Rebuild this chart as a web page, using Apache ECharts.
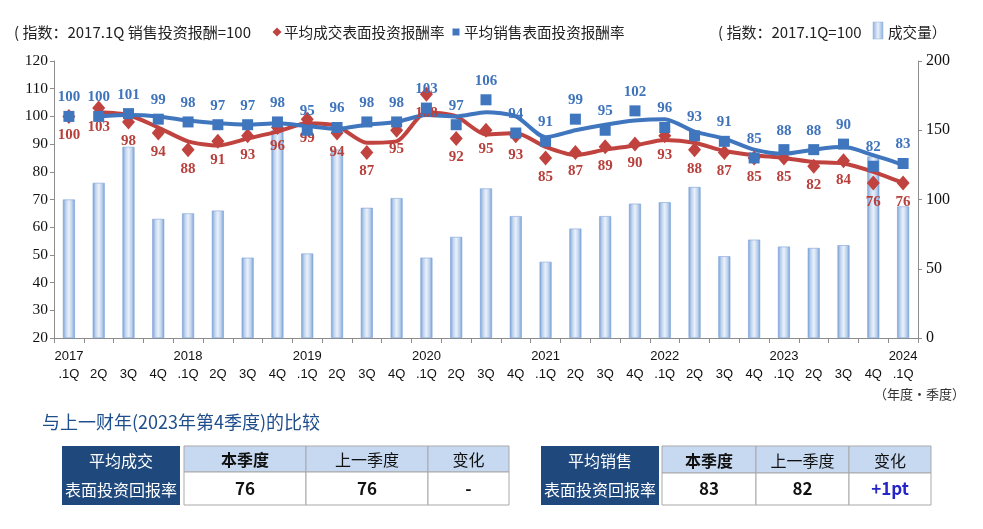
<!DOCTYPE html>
<html>
<head>
<meta charset="utf-8">
<script src="https://cdn.jsdelivr.net/npm/echarts@6/dist/echarts.min.js"></script>
<style>
html,body{margin:0;padding:0;background:#fff;}
#chart{width:983px;height:529px;}
</style>
</head>
<body>
<div id="chart"></div>
<script>
// ---- data ----
var yearLabels = ['2017','','','','2018','','','','2019','','','','2020','','','','2021','','','','2022','','','','2023','','','','2024'];
var quarterLabels = ['.1Q','2Q','3Q','4Q','.1Q','2Q','3Q','4Q','.1Q','2Q','3Q','4Q','.1Q','2Q','3Q','4Q','.1Q','2Q','3Q','4Q','.1Q','2Q','3Q','4Q','.1Q','2Q','3Q','4Q','.1Q'];
var volume = [100,112,138,86,90,92,58,150,61,136,94,101,58,73,108,88,55,79,88,97,98,109,59,71,66,65,67,131,95];
var dealRate = [100,103,98,94,88,91,93,96,99,94,87,95,108,92,95,93,85,87,89,90,93,88,87,85,85,82,84,76,76];
var saleRate = [100,100,101,99,98,97,97,98,95,96,98,98,103,97,106,94,91,99,95,102,96,93,91,85,88,88,90,82,83];
var dealTrend = [null,101.5,100.5,96,91,89.5,92,94.5,97.5,96.5,90.5,91,101.5,100,93.5,94,89,86,88,89.5,91.5,90.5,87.5,86,85,83.5,83,80,76];
var saleTrend = [null,100,100.5,100,98.5,97.5,97,97.5,96.5,95.5,97,98,100.5,100,101.5,100,92.5,95,97,98.5,99,94.5,92,88,86.5,88,89,86,82.5];
var leftTicks = {min:20, max:120, interval:10};
var rightTicks = {min:0, max:200, interval:50};
var tableLeft = {head:['平均成交','表面投资回报率'], cols:['本季度','上一季度','变化'], vals:['76','76','-']};
var tableRight = {head:['平均销售','表面投资回报率'], cols:['本季度','上一季度','变化'], vals:['83','82','+1pt']};

var categories = quarterLabels.map(function(q,i){ return i + ''; });

var RED = '#C0433F', BLUE = '#3F76BE';
var CJK = "'Noto Sans CJK SC', 'Noto Sans', sans-serif";
var SERIF = "'Liberation Serif', 'DejaVu Serif', serif";
var SANS = "'Liberation Sans', Arial, sans-serif";

var chart = echarts.init(document.getElementById('chart'), null, {renderer:'canvas'});

function tableGraphics(t, x0, y0, darkW, colX, colW, headH, valH){
  var els = [];
  els.push({type:'rect', shape:{x:x0, y:y0, width:darkW, height:headH+valH}, style:{fill:'#1F497D'}, z:10});
  els.push({type:'text', style:{text:t.head[0], x:x0+darkW/2, y:y0+15, align:'center', verticalAlign:'middle', fill:'#fff', font:'16px '+CJK}, z:11});
  els.push({type:'text', style:{text:t.head[1], x:x0+darkW/2, y:y0+headH+valH-15, align:'center', verticalAlign:'middle', fill:'#fff', font:'16px '+CJK}, z:11});
  for (var i=0;i<3;i++){
    els.push({type:'rect', shape:{x:colX[i], y:y0, width:colW[i], height:headH}, style:{fill:'#C6D9F1', stroke:'#A9A9A9', lineWidth:1}, z:10});
    els.push({type:'rect', shape:{x:colX[i], y:y0+headH, width:colW[i], height:valH}, style:{fill:'#fff', stroke:'#A9A9A9', lineWidth:1}, z:10});
    els.push({type:'text', style:{text:t.cols[i], x:colX[i]+colW[i]/2, y:y0+headH/2+1, align:'center', verticalAlign:'middle', fill:'#111', font:(i===0?'bold ':'')+'16px '+CJK}, z:11});
    var isPt = t.vals[i].indexOf('pt')>=0;
    els.push({type:'text', style:{text:t.vals[i], x:colX[i]+colW[i]/2, y:y0+headH+valH/2, align:'center', verticalAlign:'middle', fill:isPt?'#2424C8':'#111', font:'bold 17px '+CJK}, z:11});
  }
  return els;
}

var graphics = [
  {type:'text', style:{text:'( 指数：2017.1Q 销售投资报酬=100', x:14, y:32, verticalAlign:'middle', fill:'#222', font:'15px '+CJK}},
  {type:'polygon', shape:{points:[[277,27.5],[281.5,32],[277,36.5],[272.5,32]]}, style:{fill:RED}},
  {type:'text', style:{text:'平均成交表面投资报酬率', x:284, y:32, verticalAlign:'middle', fill:'#222', font:'14.6px '+CJK}},
  {type:'rect', shape:{x:452.5, y:28.5, width:7, height:7}, style:{fill:BLUE}},
  {type:'text', style:{text:'平均销售表面投资报酬率', x:464, y:32, verticalAlign:'middle', fill:'#222', font:'14.6px '+CJK}},
  {type:'text', style:{text:'( 指数：2017.1Q=100', x:718, y:32, verticalAlign:'middle', fill:'#222', font:'15px '+CJK}},
  {type:'rect', shape:{x:873, y:22, width:10, height:17}, style:{fill:new echarts.graphic.LinearGradient(0,0,1,0,[{offset:0,color:'#8FB0DE'},{offset:0.5,color:'#E8F0FA'},{offset:1,color:'#8FB0DE'}]), stroke:'#8FB0DE', lineWidth:0.5}},
  {type:'text', style:{text:'成交量）', x:888, y:32, verticalAlign:'middle', fill:'#222', font:'14.6px '+CJK}},
  {type:'text', style:{text:'（年度·季度）', x:965, y:394, align:'right', verticalAlign:'middle', fill:'#333', font:'13px '+CJK}},
  {type:'text', style:{text:'与上一财年(2023年第4季度)的比较', x:42, y:422, verticalAlign:'middle', fill:'#1F4E8C', font:'18px '+CJK}}
];
graphics = graphics.concat(tableGraphics(tableLeft, 62, 446, 118, [184,306,428], [122,122,81], 26, 33));
graphics = graphics.concat(tableGraphics(tableRight, 541, 446, 118, [662,756,849], [94,93,82], 27, 32));

var labelCommon = {show:true, fontFamily:SERIF, fontWeight:'bold', fontSize:15};

var option = {
  animation:false,
  backgroundColor:'#fff',
  grid:{left:54, right:65, top:61, bottom:191},
  xAxis:{
    type:'category', data:categories, boundaryGap:true,
    axisLine:{lineStyle:{color:'#8C8C8C', width:1}},
    axisTick:{show:true, interval:0, length:5, lineStyle:{color:'#8C8C8C'}},
    axisLabel:{interval:0, margin:9, formatter:function(v){ var i=+v; return '{y|'+(yearLabels[i]||' ')+'}\n{q|'+quarterLabels[i]+'}'; },
      rich:{y:{fontFamily:SANS, fontSize:13, color:'#111', lineHeight:18, align:'center'}, q:{fontFamily:SANS, fontSize:13, color:'#111', lineHeight:18, align:'center'}}}
  },
  yAxis:[
    {type:'value', min:leftTicks.min, max:leftTicks.max, interval:leftTicks.interval,
     axisLine:{show:true, lineStyle:{color:'#8C8C8C'}}, axisTick:{show:true, length:4, lineStyle:{color:'#8C8C8C'}},
     splitLine:{show:false}, axisLabel:{fontFamily:SERIF, fontSize:15.5, color:'#111', margin:6}},
    {type:'value', min:rightTicks.min, max:rightTicks.max, interval:rightTicks.interval, position:'right',
     axisLine:{show:true, lineStyle:{color:'#8C8C8C'}}, axisTick:{show:true, length:4, lineStyle:{color:'#8C8C8C'}},
     splitLine:{show:false}, axisLabel:{fontFamily:SERIF, fontSize:16, color:'#111', margin:8}}
  ],
  series:[
    {name:'成交量', type:'bar', yAxisIndex:1, data:volume, barWidth:12, z:1,
     itemStyle:{color:new echarts.graphic.LinearGradient(0,0,1,0,[{offset:0,color:'#769FD8'},{offset:0.25,color:'#C0D4EE'},{offset:0.5,color:'#EAF1FA'},{offset:0.75,color:'#C0D4EE'},{offset:1,color:'#769FD8'}]),
       borderColor:'#7EA3D8', borderWidth:0.6}},
    {name:'平均成交表面投资报酬率趋势', type:'line', data:dealTrend, yAxisIndex:0, showSymbol:false, smooth:0.25, z:4,
     lineStyle:{color:RED, width:4}, itemStyle:{color:RED}},
    {name:'平均销售表面投资报酬率趋势', type:'line', data:saleTrend, yAxisIndex:0, showSymbol:false, smooth:0.25, z:4,
     lineStyle:{color:BLUE, width:4}, itemStyle:{color:BLUE}},
    {name:'平均成交表面投资报酬率', type:'scatter', data:dealRate, yAxisIndex:0, symbol:'diamond', symbolSize:[13,15], z:5,
     itemStyle:{color:RED, opacity:1},
     label:Object.assign({}, labelCommon, {position:'bottom', distance:4, color:'#B8403C'})},
    {name:'平均销售表面投资报酬率', type:'scatter', data:saleRate, yAxisIndex:0, symbol:'rect', symbolSize:11, z:6,
     itemStyle:{color:BLUE, opacity:1},
     label:Object.assign({}, labelCommon, {position:'top', distance:6, color:'#3F74BC'})}
  ],
  graphic:graphics
};
chart.setOption(option);
</script>
</body>
</html>
